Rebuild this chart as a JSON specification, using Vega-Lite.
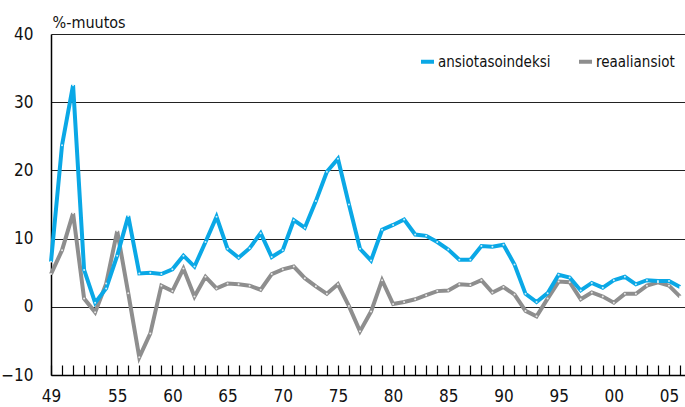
{
  "$schema": "https://vega.github.io/schema/vega-lite/v6.json",
  "width": 634,
  "height": 341,
  "autosize": {"type": "none"},
  "padding": {"left": 51, "top": 34, "right": 0, "bottom": 32},
  "background": "white",
  "config": {
    "view": {"stroke": null},
    "font": "Liberation Sans Narrow, DejaVu Sans Condensed, sans-serif"
  },
  "data": {
    "values": [
      {"year": 1949, "series": "ansiotasoindeksi", "value": 6.6},
      {"year": 1950, "series": "ansiotasoindeksi", "value": 23.7},
      {"year": 1951, "series": "ansiotasoindeksi", "value": 32.5},
      {"year": 1952, "series": "ansiotasoindeksi", "value": 5.4},
      {"year": 1953, "series": "ansiotasoindeksi", "value": 0.6},
      {"year": 1954, "series": "ansiotasoindeksi", "value": 2.7},
      {"year": 1955, "series": "ansiotasoindeksi", "value": 7.5},
      {"year": 1956, "series": "ansiotasoindeksi", "value": 13.3},
      {"year": 1957, "series": "ansiotasoindeksi", "value": 4.9},
      {"year": 1958, "series": "ansiotasoindeksi", "value": 5.0},
      {"year": 1959, "series": "ansiotasoindeksi", "value": 4.8},
      {"year": 1960, "series": "ansiotasoindeksi", "value": 5.5},
      {"year": 1961, "series": "ansiotasoindeksi", "value": 7.5},
      {"year": 1962, "series": "ansiotasoindeksi", "value": 5.9},
      {"year": 1963, "series": "ansiotasoindeksi", "value": 9.5},
      {"year": 1964, "series": "ansiotasoindeksi", "value": 13.2},
      {"year": 1965, "series": "ansiotasoindeksi", "value": 8.5},
      {"year": 1966, "series": "ansiotasoindeksi", "value": 7.2},
      {"year": 1967, "series": "ansiotasoindeksi", "value": 8.6},
      {"year": 1968, "series": "ansiotasoindeksi", "value": 10.8},
      {"year": 1969, "series": "ansiotasoindeksi", "value": 7.3},
      {"year": 1970, "series": "ansiotasoindeksi", "value": 8.3},
      {"year": 1971, "series": "ansiotasoindeksi", "value": 12.7},
      {"year": 1972, "series": "ansiotasoindeksi", "value": 11.6},
      {"year": 1973, "series": "ansiotasoindeksi", "value": 15.5},
      {"year": 1974, "series": "ansiotasoindeksi", "value": 19.8},
      {"year": 1975, "series": "ansiotasoindeksi", "value": 21.7},
      {"year": 1976, "series": "ansiotasoindeksi", "value": 15.0},
      {"year": 1977, "series": "ansiotasoindeksi", "value": 8.5},
      {"year": 1978, "series": "ansiotasoindeksi", "value": 6.8},
      {"year": 1979, "series": "ansiotasoindeksi", "value": 11.3},
      {"year": 1980, "series": "ansiotasoindeksi", "value": 12.0},
      {"year": 1981, "series": "ansiotasoindeksi", "value": 12.8},
      {"year": 1982, "series": "ansiotasoindeksi", "value": 10.6},
      {"year": 1983, "series": "ansiotasoindeksi", "value": 10.4},
      {"year": 1984, "series": "ansiotasoindeksi", "value": 9.5},
      {"year": 1985, "series": "ansiotasoindeksi", "value": 8.4},
      {"year": 1986, "series": "ansiotasoindeksi", "value": 6.9},
      {"year": 1987, "series": "ansiotasoindeksi", "value": 6.9},
      {"year": 1988, "series": "ansiotasoindeksi", "value": 8.9},
      {"year": 1989, "series": "ansiotasoindeksi", "value": 8.8},
      {"year": 1990, "series": "ansiotasoindeksi", "value": 9.1},
      {"year": 1991, "series": "ansiotasoindeksi", "value": 6.2},
      {"year": 1992, "series": "ansiotasoindeksi", "value": 1.9},
      {"year": 1993, "series": "ansiotasoindeksi", "value": 0.7},
      {"year": 1994, "series": "ansiotasoindeksi", "value": 2.0},
      {"year": 1995, "series": "ansiotasoindeksi", "value": 4.7},
      {"year": 1996, "series": "ansiotasoindeksi", "value": 4.3},
      {"year": 1997, "series": "ansiotasoindeksi", "value": 2.4},
      {"year": 1998, "series": "ansiotasoindeksi", "value": 3.5},
      {"year": 1999, "series": "ansiotasoindeksi", "value": 2.8},
      {"year": 2000, "series": "ansiotasoindeksi", "value": 3.9},
      {"year": 2001, "series": "ansiotasoindeksi", "value": 4.4},
      {"year": 2002, "series": "ansiotasoindeksi", "value": 3.3},
      {"year": 2003, "series": "ansiotasoindeksi", "value": 3.9},
      {"year": 2004, "series": "ansiotasoindeksi", "value": 3.8},
      {"year": 2005, "series": "ansiotasoindeksi", "value": 3.8},
      {"year": 2006, "series": "ansiotasoindeksi", "value": 2.9},
      {"year": 1949, "series": "reaaliansiot", "value": 4.8},
      {"year": 1950, "series": "reaaliansiot", "value": 8.3},
      {"year": 1951, "series": "reaaliansiot", "value": 13.7},
      {"year": 1952, "series": "reaaliansiot", "value": 1.2},
      {"year": 1953, "series": "reaaliansiot", "value": -0.8},
      {"year": 1954, "series": "reaaliansiot", "value": 3.4},
      {"year": 1955, "series": "reaaliansiot", "value": 11.1},
      {"year": 1956, "series": "reaaliansiot", "value": 2.0},
      {"year": 1957, "series": "reaaliansiot", "value": -7.4},
      {"year": 1958, "series": "reaaliansiot", "value": -3.9},
      {"year": 1959, "series": "reaaliansiot", "value": 3.1},
      {"year": 1960, "series": "reaaliansiot", "value": 2.3},
      {"year": 1961, "series": "reaaliansiot", "value": 5.6},
      {"year": 1962, "series": "reaaliansiot", "value": 1.5},
      {"year": 1963, "series": "reaaliansiot", "value": 4.4},
      {"year": 1964, "series": "reaaliansiot", "value": 2.7},
      {"year": 1965, "series": "reaaliansiot", "value": 3.4},
      {"year": 1966, "series": "reaaliansiot", "value": 3.3},
      {"year": 1967, "series": "reaaliansiot", "value": 3.1},
      {"year": 1968, "series": "reaaliansiot", "value": 2.5},
      {"year": 1969, "series": "reaaliansiot", "value": 4.8},
      {"year": 1970, "series": "reaaliansiot", "value": 5.5},
      {"year": 1971, "series": "reaaliansiot", "value": 5.9},
      {"year": 1972, "series": "reaaliansiot", "value": 4.2},
      {"year": 1973, "series": "reaaliansiot", "value": 3.0},
      {"year": 1974, "series": "reaaliansiot", "value": 1.9},
      {"year": 1975, "series": "reaaliansiot", "value": 3.3},
      {"year": 1976, "series": "reaaliansiot", "value": 0.1},
      {"year": 1977, "series": "reaaliansiot", "value": -3.6},
      {"year": 1978, "series": "reaaliansiot", "value": -0.7},
      {"year": 1979, "series": "reaaliansiot", "value": 3.9},
      {"year": 1980, "series": "reaaliansiot", "value": 0.4},
      {"year": 1981, "series": "reaaliansiot", "value": 0.7},
      {"year": 1982, "series": "reaaliansiot", "value": 1.1},
      {"year": 1983, "series": "reaaliansiot", "value": 1.7},
      {"year": 1984, "series": "reaaliansiot", "value": 2.3},
      {"year": 1985, "series": "reaaliansiot", "value": 2.4},
      {"year": 1986, "series": "reaaliansiot", "value": 3.3},
      {"year": 1987, "series": "reaaliansiot", "value": 3.2},
      {"year": 1988, "series": "reaaliansiot", "value": 3.9},
      {"year": 1989, "series": "reaaliansiot", "value": 2.1},
      {"year": 1990, "series": "reaaliansiot", "value": 2.9},
      {"year": 1991, "series": "reaaliansiot", "value": 1.8},
      {"year": 1992, "series": "reaaliansiot", "value": -0.6},
      {"year": 1993, "series": "reaaliansiot", "value": -1.4},
      {"year": 1994, "series": "reaaliansiot", "value": 1.2},
      {"year": 1995, "series": "reaaliansiot", "value": 3.7},
      {"year": 1996, "series": "reaaliansiot", "value": 3.6},
      {"year": 1997, "series": "reaaliansiot", "value": 1.1},
      {"year": 1998, "series": "reaaliansiot", "value": 2.1},
      {"year": 1999, "series": "reaaliansiot", "value": 1.5},
      {"year": 2000, "series": "reaaliansiot", "value": 0.6},
      {"year": 2001, "series": "reaaliansiot", "value": 1.9},
      {"year": 2002, "series": "reaaliansiot", "value": 1.9},
      {"year": 2003, "series": "reaaliansiot", "value": 3.1},
      {"year": 2004, "series": "reaaliansiot", "value": 3.6},
      {"year": 2005, "series": "reaaliansiot", "value": 3.1},
      {"year": 2006, "series": "reaaliansiot", "value": 1.5}
    ]
  },
  "encoding": {
    "x": {
      "field": "year",
      "type": "quantitative",
      "scale": {"domain": [1949, 2006.45], "nice": false, "zero": false},
      "axis": {
        "title": null,
        "orient": "bottom",
        "values": [1949,1950,1951,1952,1953,1954,1955,1956,1957,1958,1959,1960,1961,1962,1963,1964,1965,1966,1967,1968,1969,1970,1971,1972,1973,1974,1975,1976,1977,1978,1979,1980,1981,1982,1983,1984,1985,1986,1987,1988,1989,1990,1991,1992,1993,1994,1995,1996,1997,1998,1999,2000,2001,2002,2003,2004,2005,2006],
        "labelExpr": "(datum.value == 1949 || (datum.value % 5 == 0 && datum.value != 1950)) ? substring(toString(datum.value), 2) : ''",
        "grid": true,
        "gridColor": "black",
        "gridWidth": 1.2,
        "gridOpacity": 1,
        "gridDash": [0, 331, 10, 1000],
        "domainColor": "black",
        "domainWidth": 1.5,
        "ticks": false,
        "tickSize": 0,
        "labelPadding": 13,
        "labelFontSize": 17,
        "labelColor": "#111",
        "labelFlush": false,
        "labelOverlap": false
      }
    },
    "y": {
      "field": "value",
      "type": "quantitative",
      "scale": {"domain": [-10, 40], "nice": false},
      "axis": {
        "values": [-10, 0, 10, 20, 30, 40],
        "labelExpr": "datum.value < 0 ? '−' + abs(datum.value) : datum.value",
        "title": "%-muutos",
        "titleAngle": 0,
        "titleX": 1,
        "titleY": -7,
        "titleAlign": "left",
        "titleBaseline": "alphabetic",
        "titleFontSize": 16,
        "titleFontWeight": "normal",
        "titleColor": "#111",
        "grid": true,
        "gridColor": "#222",
        "gridWidth": 1.2,
        "ticks": false,
        "domainColor": "black",
        "domainWidth": 1.5,
        "labelPadding": 18,
        "labelFontSize": 17,
        "labelColor": "#111"
      }
    },
    "color": {
      "field": "series",
      "type": "nominal",
      "scale": {"domain": ["ansiotasoindeksi", "reaaliansiot"], "range": ["#0AA8E6", "#8E8E8E"]},
      "legend": {
        "title": null,
        "orient": "none",
        "legendX": 368,
        "legendY": 19,
        "direction": "horizontal",
        "symbolType": "stroke",
        "symbolSize": 169,
        "symbolStrokeWidth": 4,
        "labelFontSize": 15,
        "labelColor": "#111",
        "labelOffset": 2,
        "columnPadding": 20
      }
    }
  },
  "layer": [
    {
      "transform": [{"filter": "datum.series == 'reaaliansiot'"}],
      "mark": {"type": "line", "strokeWidth": 4, "strokeJoin": "miter"},
      "encoding": {"order": {"field": "year"}}
    },
    {
      "transform": [{"filter": "datum.series == 'ansiotasoindeksi'"}],
      "mark": {"type": "line", "strokeWidth": 4, "strokeJoin": "miter"},
      "encoding": {"order": {"field": "year"}}
    },
    {
      "mark": {"type": "point", "filled": true, "size": 4, "opacity": 0.8},
      "encoding": {"color": {"value": "white"}}
    }
  ]
}
